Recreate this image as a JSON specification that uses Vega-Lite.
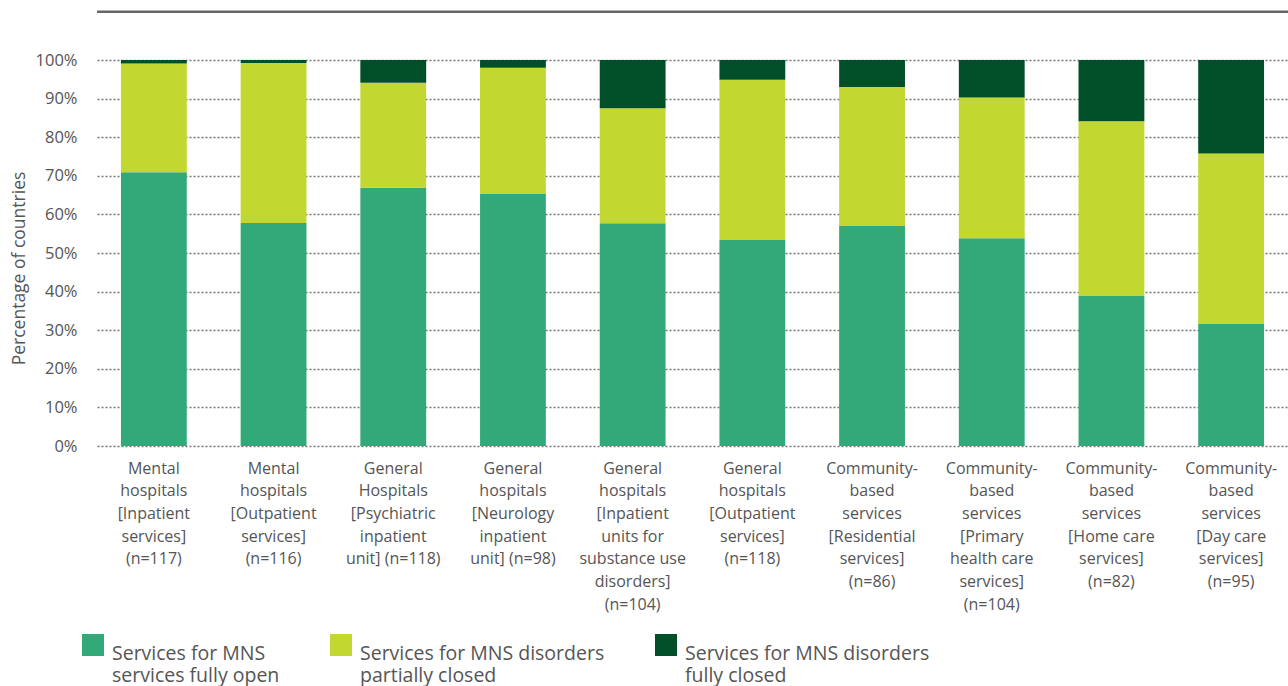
{
  "$schema": "https://vega.github.io/schema/vega-lite/v6.json",
  "width": 1191,
  "height": 386,
  "autosize": "none",
  "padding": {"left": 97, "top": 60, "right": 0, "bottom": 240},
  "background": "white",
  "config": {"view": {"stroke": null}, "font": "Open Sans"},
  "resolve": {"axis": {"y": "independent"}},
  "layer": [
    {
      "data": {"values": [
        {"service": "Mental|hospitals|[Inpatient|services]|(n=117)", "status": "Services for MNS|services fully open", "rank": 1, "percent": 70.9},
        {"service": "Mental|hospitals|[Inpatient|services]|(n=117)", "status": "Services for MNS disorders|partially closed", "rank": 2, "percent": 28.2},
        {"service": "Mental|hospitals|[Inpatient|services]|(n=117)", "status": "Services for MNS disorders|fully closed", "rank": 3, "percent": 0.9},
        {"service": "Mental|hospitals|[Outpatient|services]|(n=116)", "status": "Services for MNS|services fully open", "rank": 1, "percent": 57.8},
        {"service": "Mental|hospitals|[Outpatient|services]|(n=116)", "status": "Services for MNS disorders|partially closed", "rank": 2, "percent": 41.4},
        {"service": "Mental|hospitals|[Outpatient|services]|(n=116)", "status": "Services for MNS disorders|fully closed", "rank": 3, "percent": 0.8},
        {"service": "General|Hospitals|[Psychiatric|inpatient|unit] (n=118)", "status": "Services for MNS|services fully open", "rank": 1, "percent": 66.9},
        {"service": "General|Hospitals|[Psychiatric|inpatient|unit] (n=118)", "status": "Services for MNS disorders|partially closed", "rank": 2, "percent": 27.2},
        {"service": "General|Hospitals|[Psychiatric|inpatient|unit] (n=118)", "status": "Services for MNS disorders|fully closed", "rank": 3, "percent": 5.9},
        {"service": "General|hospitals|[Neurology|inpatient|unit] (n=98)", "status": "Services for MNS|services fully open", "rank": 1, "percent": 65.3},
        {"service": "General|hospitals|[Neurology|inpatient|unit] (n=98)", "status": "Services for MNS disorders|partially closed", "rank": 2, "percent": 32.7},
        {"service": "General|hospitals|[Neurology|inpatient|unit] (n=98)", "status": "Services for MNS disorders|fully closed", "rank": 3, "percent": 2.0},
        {"service": "General|hospitals|[Inpatient|units for|substance use|disorders]|(n=104)", "status": "Services for MNS|services fully open", "rank": 1, "percent": 57.7},
        {"service": "General|hospitals|[Inpatient|units for|substance use|disorders]|(n=104)", "status": "Services for MNS disorders|partially closed", "rank": 2, "percent": 29.8},
        {"service": "General|hospitals|[Inpatient|units for|substance use|disorders]|(n=104)", "status": "Services for MNS disorders|fully closed", "rank": 3, "percent": 12.5},
        {"service": "General|hospitals|[Outpatient|services]|(n=118)", "status": "Services for MNS|services fully open", "rank": 1, "percent": 53.4},
        {"service": "General|hospitals|[Outpatient|services]|(n=118)", "status": "Services for MNS disorders|partially closed", "rank": 2, "percent": 41.5},
        {"service": "General|hospitals|[Outpatient|services]|(n=118)", "status": "Services for MNS disorders|fully closed", "rank": 3, "percent": 5.1},
        {"service": "Community-|based|services|[Residential|services]|(n=86)", "status": "Services for MNS|services fully open", "rank": 1, "percent": 57.0},
        {"service": "Community-|based|services|[Residential|services]|(n=86)", "status": "Services for MNS disorders|partially closed", "rank": 2, "percent": 36.0},
        {"service": "Community-|based|services|[Residential|services]|(n=86)", "status": "Services for MNS disorders|fully closed", "rank": 3, "percent": 7.0},
        {"service": "Community-|based|services|[Primary|health care|services]|(n=104)", "status": "Services for MNS|services fully open", "rank": 1, "percent": 53.8},
        {"service": "Community-|based|services|[Primary|health care|services]|(n=104)", "status": "Services for MNS disorders|partially closed", "rank": 2, "percent": 36.5},
        {"service": "Community-|based|services|[Primary|health care|services]|(n=104)", "status": "Services for MNS disorders|fully closed", "rank": 3, "percent": 9.7},
        {"service": "Community-|based|services|[Home care|services]|(n=82)", "status": "Services for MNS|services fully open", "rank": 1, "percent": 39.0},
        {"service": "Community-|based|services|[Home care|services]|(n=82)", "status": "Services for MNS disorders|partially closed", "rank": 2, "percent": 45.1},
        {"service": "Community-|based|services|[Home care|services]|(n=82)", "status": "Services for MNS disorders|fully closed", "rank": 3, "percent": 15.9},
        {"service": "Community-|based|services|[Day care|services]|(n=95)", "status": "Services for MNS|services fully open", "rank": 1, "percent": 31.6},
        {"service": "Community-|based|services|[Day care|services]|(n=95)", "status": "Services for MNS disorders|partially closed", "rank": 2, "percent": 44.2},
        {"service": "Community-|based|services|[Day care|services]|(n=95)", "status": "Services for MNS disorders|fully closed", "rank": 3, "percent": 24.2}
      ]},
      "mark": {"type": "bar"},
      "encoding": {
        "x": {
          "field": "service", "type": "nominal", "sort": null,
          "scale": {"paddingInner": 0.45, "paddingOuter": 0.2},
          "axis": {
            "title": null, "labelAngle": 0, "labelExpr": "split(datum.label, '|')",
            "labelFontSize": 16, "labelLineHeight": 22.7, "labelColor": "#555555",
            "labelPadding": 14, "labelBaseline": "top", "domain": false, "ticks": false,
            "labelLimit": 0, "grid": false, "labelOverlap": false
          }
        },
        "y": {
          "field": "percent", "type": "quantitative", "stack": "zero",
          "scale": {"domain": [0, 100]},
          "axis": {
            "title": "Percentage of countries",
            "values": [0, 10, 20, 30, 40, 50, 60, 70, 80, 90, 100],
            "labelExpr": "datum.value + '%'", "labelOverlap": false,
            "grid": true, "gridDash": [2, 2], "gridColor": "#777777", "gridWidth": 1.3,
            "domain": false, "ticks": false, "labelPadding": 20,
            "labelFontSize": 16.5, "labelColor": "#555555",
            "titleFontSize": 17.5, "titleFontWeight": "normal", "titleColor": "#555555",
            "titlePadding": 7, "titleY": 208
          }
        },
        "color": {
          "field": "status", "type": "nominal",
          "scale": {
            "domain": ["Services for MNS|services fully open", "Services for MNS disorders|partially closed", "Services for MNS disorders|fully closed"],
            "range": ["#33A97A", "#C2D830", "#004F29"]
          },
          "legend": {
            "orient": "none", "legendX": -15, "legendY": 574, "direction": "horizontal",
            "title": null, "symbolType": "square", "symbolSize": 484, "symbolStrokeWidth": 0,
            "labelFontSize": 19.5, "labelColor": "#555555", "labelExpr": "split(datum.label, '|')",
            "labelLineHeight": 25.5, "columnPadding": 50, "labelOffset": 8, "labelLimit": 400,
            "labelBaseline": "top"
          }
        },
        "order": {"field": "rank", "type": "quantitative"}
      }
    },
    {
      "data": {"values": [{}]},
      "mark": {"type": "rule", "color": "#666666", "strokeWidth": 2.5},
      "encoding": {"y": {"datum": 112.5, "axis": null}}
    }
  ]
}
